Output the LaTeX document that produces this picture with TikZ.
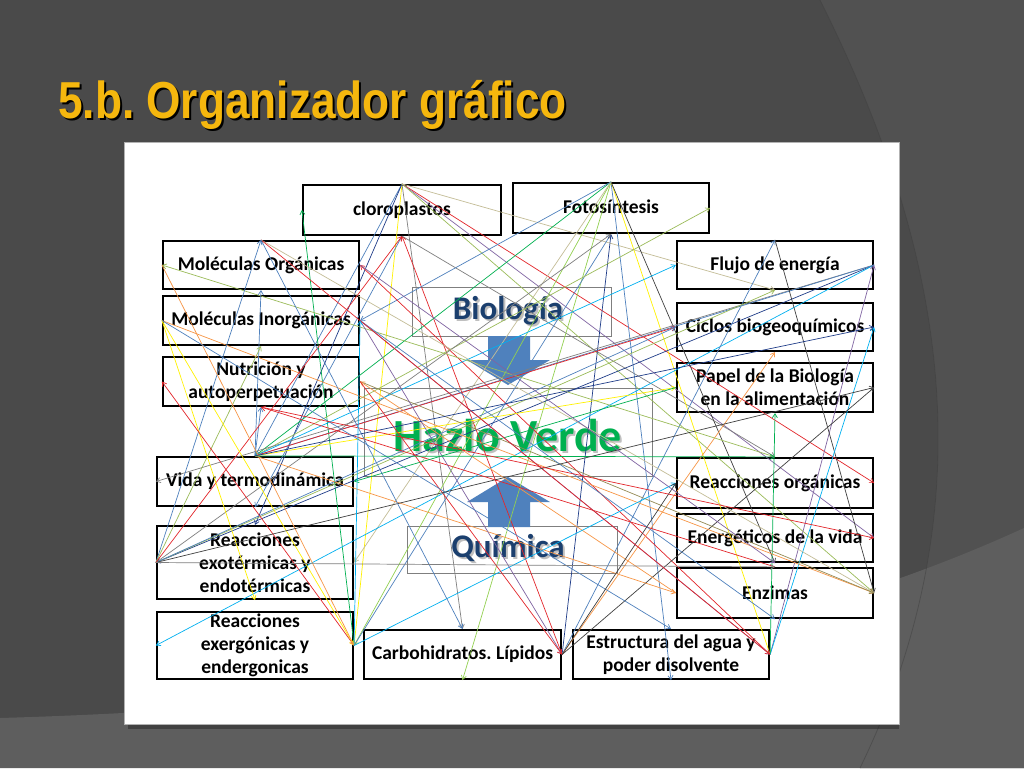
\documentclass[tikz,border=0pt]{standalone}
\usepackage{fontspec}
\newfontfamily\carlito{Carlito}
\newfontfamily\titlefont[FakeStretch=0.85]{Liberation Sans}
\usetikzlibrary{arrows.meta}
\frenchspacing

\definecolor{bgdark}{HTML}{4A4A4A}
\definecolor{bgmid}{HTML}{515151}
\definecolor{bglow}{HTML}{5E5E5E}
\definecolor{titlegold}{HTML}{F5B70E}
\definecolor{biotext}{HTML}{1B3F6E}
\definecolor{hazgreen}{HTML}{00B050}
\definecolor{blockblue}{HTML}{4F81BD}
\definecolor{cred}{HTML}{E3262B}
\definecolor{cblue}{HTML}{4F81BD}
\definecolor{cnavy}{HTML}{1F3C88}
\definecolor{cyellow}{HTML}{FFF200}
\definecolor{cgreen}{HTML}{00B050}
\definecolor{clgreen}{HTML}{92D050}
\definecolor{colive}{HTML}{9BBB59}
\definecolor{ckhaki}{HTML}{C4BD97}
\definecolor{corange}{HTML}{F79646}
\definecolor{cpurple}{HTML}{8064A2}
\definecolor{ccyan}{HTML}{00B0F0}
\definecolor{cgray}{HTML}{7F7F7F}
\definecolor{cdark}{HTML}{404040}
\definecolor{cbrown}{HTML}{948A54}

\tikzset{
  box/.style={draw, line width=2.2pt, minimum width=196pt, minimum height=48pt,
    inner sep=0pt, align=center, font=\carlito\bfseries\fontsize{19.5}{23}\selectfont},
  centerbox/.style={draw=cgray, line width=0.8pt, inner sep=0pt},
  link/.style={line width=0.7pt, -{Straight Barb[length=4pt,width=5pt]}},
  titletext/.style={font=\titlefont\bfseries\fontsize{52}{56}\selectfont, anchor=base west, inner sep=0pt}
}

\begin{document}
\begin{tikzpicture}[x=1pt,y=-1pt]
  \useasboundingbox (0,0) rectangle (1024,768);
  % slide background
  \fill[bgdark] (0,0) rectangle (1024,768);
  \fill[bgmid] (820,0) .. controls (930,220) and (1000,480) .. (860,768) -- (1024,768) -- (1024,0) -- cycle;
  \fill[bglow] (0,718) .. controls (450,705) and (780,640) .. (1024,528) -- (1024,768) -- (0,768) -- cycle;
  \draw[black!75, line width=0.8pt, opacity=0.5] (820,0) .. controls (930,220) and (1000,480) .. (860,768);

  \node[titletext, text=black] (titleshadow) at (60,120) {5.b. Organizador gráfico};
  \node[titletext, text=titlegold] (title) at (58,118) {5.b. Organizador gráfico};

  % white panel
  \fill[black, opacity=0.3] (128,724) rectangle (899,729);
  \filldraw[fill=white, draw=gray!60, line width=0.6pt] (124,142) rectangle (899,724);

  % centre
  \node[centerbox, minimum width=199pt, minimum height=49pt] (bio) at (511.5,311.5) {};
  \node[centerbox, minimum width=288pt, minimum height=88pt] (hazlo) at (508,432) {};
  \node[centerbox, minimum width=210pt, minimum height=47pt] (quim) at (512,549.5) {};
  \fill[blockblue] (488,336) -- (530,336) -- (530,360) -- (550,360) -- (508,385) -- (467,360) -- (488,360) -- cycle;
  \fill[blockblue] (508,477) -- (550,502) -- (530,502) -- (530,527) -- (488,527) -- (488,502) -- (467,502) -- cycle;
  \foreach \n/\t/\c/\s/\y in {bio/Biología/biotext/33/311, hazlo/Hazlo Verde/hazgreen/46/436, quim/Química/biotext/33/548}{
    \node[font=\carlito\bfseries\fontsize{\s}{\s}\selectfont, text=black, opacity=0.25] at (510,\y+2) {\t};
    \node[font=\carlito\bfseries\fontsize{\s}{\s}\selectfont, text=\c] at (508,\y) {\t};
  }

  % boxes
  \node[box, minimum width=198pt, minimum height=50pt] (clo) at (402,210) {cloroplastos};
  \node[box, minimum height=50pt] (foto) at (611,208) {\raisebox{2pt}{Fotosíntesis}};
  \node[box] (morg) at (261,265) {Moléculas Orgánicas};
  \node[box, minimum height=49pt] (minorg) at (261,320.5) {Moléculas Inorgánicas};
  \node[box, minimum height=49pt] (nutr) at (261,381.5) {Nutrición y\\autoperpetuación};
  \node[box] (flujo) at (775,265) {Flujo de energía};
  \node[box] (ciclos) at (775,327) {Ciclos biogeoquímicos};
  \node[box, minimum height=49pt] (papel) at (775,387.5) {Papel de la Biología\\en la alimentación};
  \node[box, minimum height=49pt] (vida) at (255,481.5) {Vida y termodinámica};
  \node[box, minimum height=73pt] (exot) at (255,562.5) {Reacciones\\exotérmicas y\\endotérmicas};
  \node[box, minimum height=67pt] (exer) at (255,645.5) {Reacciones\\exergónicas y\\endergonicas};
  \node[box, minimum width=197pt, minimum height=49pt] (carb) at (462.5,654.5) {Carbohidratos. Lípidos};
  \node[box, minimum height=49pt] (estr) at (671,654.5) {Estructura del agua y\\poder disolvente};
  \node[box, minimum height=50pt] (rorg) at (775,483) {Reacciones orgánicas};
  \node[box] (ener) at (775,538) {Energéticos de la vida};
  \node[box, minimum height=50pt] (enz) at (775,593) {Enzimas};

  % links
  \foreach \a/\b/\c in {
    clo.north/rorg.east/cred, clo.north/ener.east/cpurple, clo.north/vida.north/cblue,
    clo.north/exer.east/cyellow, clo.north/exot.north/cnavy, clo.north/carb.north/cgray,
    clo.north/enz.east/colive, clo.north/flujo.south/ckhaki, carb.east/clo.south/cred,
    exer.east/clo.west/cgreen, clo.south/rorg.north/cgray, clo.south/vida.south/cblue,
    foto.north/vida.north/cgreen, foto.north/exer.east/clgreen, foto.north/carb.south/clgreen,
    foto.north/estr.south/cblue, foto.north/estr.east/cyellow, foto.north/ener.south/cdark,
    foto.north/exot.east/ckhaki, foto.north/minorg.east/cblue, estr.east/morg.east/cred,
    exer.east/foto.south/cblue, carb.east/foto.south/cnavy, vida.north/foto.east/colive,
    exot.west/foto.south/cgray, flujo.east/exot.west/cnavy, flujo.east/exer.west/ccyan,
    flujo.east/vida.west/cgray, flujo.east/vida.north/cblue, estr.east/flujo.east/cpurple,
    carb.east/flujo.north/cblue, vida.north/flujo.west/ccyan, exot.west/flujo.south/colive,
    flujo.north/enz.east/cdark, vida.north/ciclos.west/cred, exot.west/ciclos.west/cblue,
    estr.east/ciclos.east/ccyan, carb.east/ciclos.south/corange, vida.north/papel.west/cyellow,
    carb.east/papel.east/cdark, estr.east/papel.south/cgreen, rorg.north/morg.west/colive,
    minorg.west/enz.east/corange, morg.north/enz.east/ckhaki, nutr.east/enz.east/cbrown,
    enz.west/nutr.east/corange, vida.north/enz.west/corange, vida.north/morg.south/cblue,
    vida.north/nutr.south/cblue, enz.north/nutr.south/cred, papel.west/vida.east/cgreen,
    exot.west/morg.north/cblue, exot.west/minorg.south/colive, exot.west/clo.south/cred,
    minorg.west/exot.south/cyellow, exer.east/nutr.west/cred, minorg.west/exer.east/cyellow,
    morg.west/exer.east/corange, exer.east/rorg.west/ccyan, minorg.east/carb.east/cpurple,
    nutr.east/carb.east/cred, minorg.west/estr.north/cblue, minorg.east/enz.south/cblue,
    carb.east/rorg.west/cdark, minorg.east/estr.east/cpurple, morg.north/estr.east/cred,
    vida.north/rorg.north/cgreen, exot.west/papel.east/cdark, morg.east/ener.south/cpurple,
    nutr.south/ener.east/cred, morg.north/carb.north/cblue, vida.north/ciclos.east/cnavy,
    exer.east/minorg.east/ccyan, exot.west/enz.north/cgray}
    \draw[link, draw=\c] (\a) -- (\b);
\end{tikzpicture}
\end{document}
